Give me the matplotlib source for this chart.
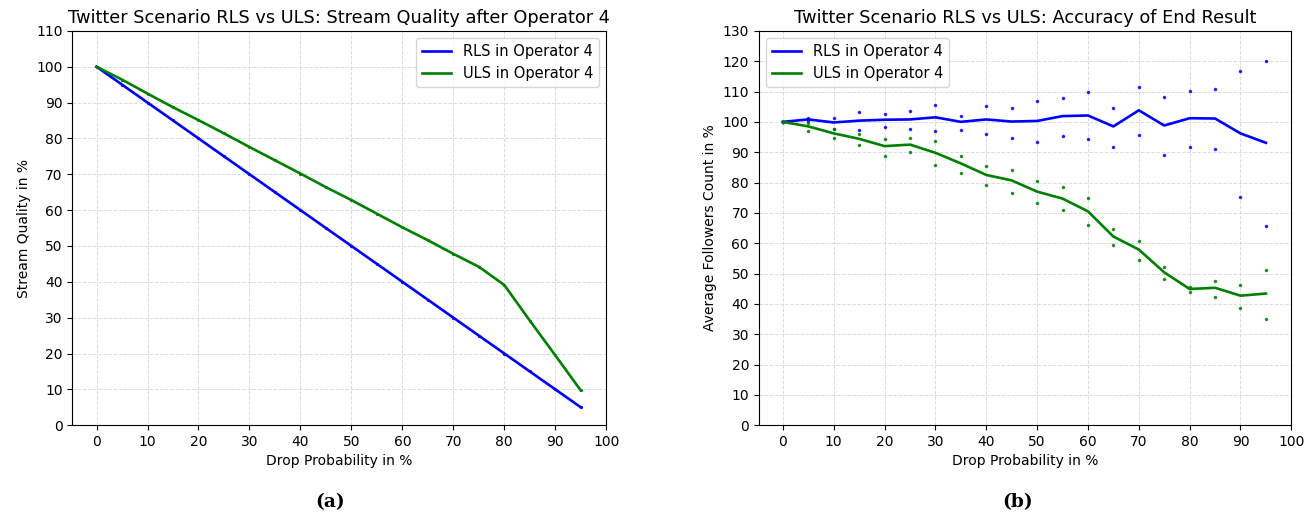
import numpy as np
import matplotlib
matplotlib.use("Agg")
import matplotlib.pyplot as plt

# Drop probability in %
drop = [0, 5, 10, 15, 20, 25, 30, 35, 40, 45, 50, 55, 60, 65, 70, 75, 80, 85, 90, 95]

# (a) Stream quality after operator 4
quality_rls = [100, 95, 90, 85, 80, 75, 70, 65, 60, 55, 50, 45, 40, 35, 30, 25, 20, 15, 10, 5]
quality_uls = [100, 96.4, 92.5, 88.7, 85.1, 81.4, 77.6, 73.9, 70.2, 66.4,
               62.8, 59.0, 55.2, 51.6, 47.8, 44.2, 39.1, 29.2, 19.5, 9.7]

# (b) Accuracy of end result: mean line plus upper / lower dots
acc_rls = [100, 100.8, 99.8, 100.4, 100.7, 100.8, 101.5, 100.0, 100.8, 100.1,
           100.3, 101.9, 102.1, 98.5, 103.8, 98.8, 101.2, 101.1, 96.2, 93.1]
acc_rls_hi = [100, 101.2, 101.2, 103.3, 102.6, 103.6, 105.7, 101.9, 105.1, 104.7,
              106.8, 107.9, 109.7, 104.7, 111.4, 108.2, 110.3, 110.7, 116.7, 120.2]
acc_rls_lo = [100, 100.4, 97.6, 97.4, 98.4, 97.7, 97.0, 97.4, 95.9, 94.8,
              93.4, 95.2, 94.2, 91.8, 95.6, 89.2, 91.8, 91.1, 75.2, 65.7]

acc_uls = [100, 98.5, 96.2, 94.4, 92.0, 92.5, 89.8, 86.3, 82.5, 80.7,
           77.0, 74.7, 70.5, 62.2, 57.9, 50.4, 44.9, 45.3, 42.7, 43.4]
acc_uls_hi = [100, 99.5, 97.7, 95.9, 94.5, 94.8, 93.8, 88.9, 85.4, 84.0,
              80.4, 78.4, 74.8, 64.6, 60.8, 52.3, 45.6, 47.4, 46.3, 51.2]
acc_uls_lo = [100, 97.0, 94.8, 92.4, 88.9, 90.0, 85.8, 83.0, 79.1, 76.6,
              73.1, 71.0, 66.0, 59.3, 54.5, 48.1, 43.8, 42.4, 38.5, 35.1]

fig = plt.figure(figsize=(13.15, 5.23), dpi=100)
ax1 = fig.add_axes([0.055, 0.187, 0.406, 0.754])
ax2 = fig.add_axes([0.577, 0.187, 0.405, 0.754])

# Left plot
ax1.plot(drop, quality_rls, color="blue", lw=1.9, label="RLS in Operator 4")
ax1.plot(drop, quality_uls, color="green", lw=1.9, label="ULS in Operator 4")
ax1.plot(drop, quality_rls, ".", color="blue", ms=2.5)
ax1.plot(drop, quality_uls, ".", color="green", ms=2.5)
ax1.set_ylim(0, 110)
ax1.set_yticks(np.arange(0, 111, 10))
ax1.set_title("Twitter Scenario RLS vs ULS: Stream Quality after Operator 4", fontsize=12.8)
ax1.set_ylabel("Stream Quality in %")
ax1.legend(loc="upper right", fontsize=10.5)

# Right plot
ax2.plot(drop, acc_rls, color="blue", lw=1.9, label="RLS in Operator 4")
ax2.plot(drop, acc_uls, color="green", lw=1.9, label="ULS in Operator 4")
ax2.plot(drop, acc_rls_hi, ".", color="blue", ms=3, alpha=0.8)
ax2.plot(drop, acc_rls_lo, ".", color="blue", ms=3, alpha=0.8)
ax2.plot(drop, acc_uls_hi, ".", color="green", ms=3, alpha=0.8)
ax2.plot(drop, acc_uls_lo, ".", color="green", ms=3, alpha=0.8)
ax2.set_ylim(0, 130)
ax2.set_yticks(np.arange(0, 131, 10))
ax2.set_title("Twitter Scenario RLS vs ULS: Accuracy of End Result", fontsize=12.8)
ax2.set_ylabel("Average Followers Count in %")
ax2.legend(loc="upper left", fontsize=10.5)

for ax in (ax1, ax2):
    ax.set_xticks(np.arange(0, 101, 10))
    ax.set_xlabel("Drop Probability in %")
    ax.grid(True, linestyle="--", color="lightgray", lw=0.7, alpha=0.8)
    ax.tick_params(labelsize=10)

# Sub-figure captions
fig.text(0.251, 0.03, "(a)", ha="center", fontsize=13.5, fontweight="bold", family="DejaVu Serif")
fig.text(0.774, 0.03, "(b)", ha="center", fontsize=13.5, fontweight="bold", family="DejaVu Serif")

plt.savefig("out.png", dpi=100)
